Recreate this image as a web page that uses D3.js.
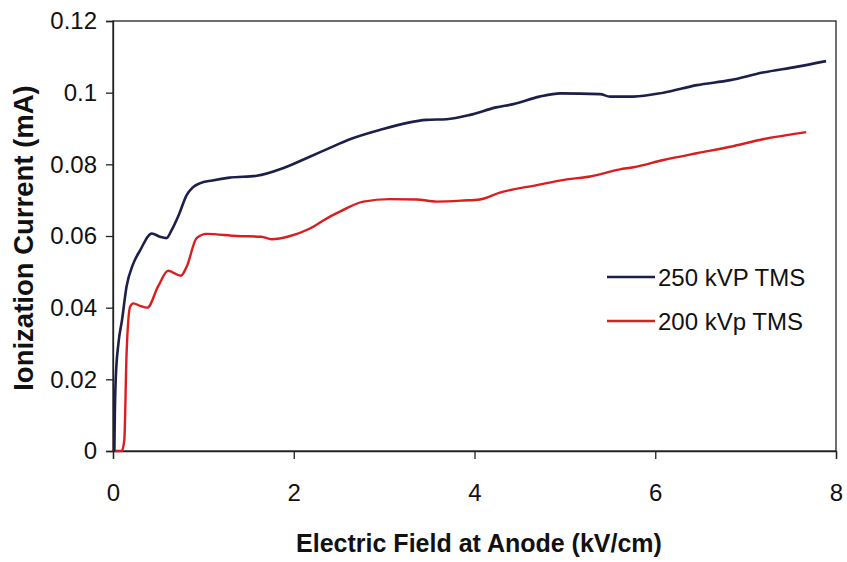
<!DOCTYPE html>
<html>
<head>
<meta charset="utf-8">
<script src="https://cdn.jsdelivr.net/npm/d3@7"></script>
<style>
  html, body { margin: 0; padding: 0; background: #fff; }
  svg { display: block; font-family: "Liberation Sans", Arial, sans-serif; }
</style>
</head>
<body>
<svg id="chart" width="847" height="562"></svg>
<script>
// Ionization current vs. electric field at the anode, two tube settings.
const fieldTicks = [0, 2, 4, 6, 8];
const currentTicks = [0, 0.02, 0.04, 0.06, 0.08, 0.1, 0.12];
const currentTickLabels = ["0", "0.02", "0.04", "0.06", "0.08", "0.1", "0.12"];

const seriesNames = ["250 kVP TMS", "200 kVp TMS"];
const seriesColors = ["#1c1f4a", "#d81e1e"];

// 250 kVP TMS: field (kV/cm) and current (mA)
const field250 = [0.015, 0.02, 0.03, 0.06, 0.1, 0.15, 0.22, 0.3, 0.43, 0.52, 0.59, 0.65, 0.73, 0.815, 0.88, 0.96, 1.1, 1.29, 1.59, 1.88, 2.14, 2.4, 2.6, 2.95, 3.47, 3.69, 3.95, 4.24, 4.43, 4.72, 4.95, 5.39, 5.5, 5.76, 6.09, 6.46, 6.83, 7.19, 7.56, 7.89];
const current250 = [0, 0.01, 0.02, 0.03, 0.0366, 0.0459, 0.052, 0.056, 0.0607, 0.0598, 0.0594, 0.0617, 0.066, 0.0714, 0.0735, 0.0747, 0.0755, 0.0763, 0.0768, 0.0789, 0.0817, 0.0846, 0.0868, 0.0896, 0.0924, 0.0926, 0.0938, 0.0959, 0.0968, 0.0989, 0.0998, 0.0996, 0.0989, 0.0989, 0.1, 0.1021, 0.1035, 0.1056, 0.1072, 0.1088];

// 200 kVp TMS: field (kV/cm) and current (mA)
const field200 = [0.02, 0.096, 0.125, 0.15, 0.19, 0.225, 0.3, 0.38, 0.5, 0.61, 0.75, 0.815, 0.925, 1.036, 1.37, 1.64, 1.755, 1.96, 2.18, 2.4, 2.51, 2.77, 3.06, 3.36, 3.58, 3.88, 4.06, 4.28, 4.69, 5.02, 5.28, 5.61, 5.76, 6.09, 6.46, 6.83, 7.19, 7.67];
const current200 = [0, 0, 0.003, 0.027, 0.0403, 0.0412, 0.0405, 0.04, 0.046, 0.0503, 0.0489, 0.0514, 0.0594, 0.0606, 0.06, 0.0598, 0.0591, 0.06, 0.0621, 0.0654, 0.0668, 0.0696, 0.0703, 0.0702, 0.0696, 0.0699, 0.0702, 0.0721, 0.0742, 0.0758, 0.0766, 0.0786, 0.0792, 0.0812, 0.0831, 0.0849, 0.087, 0.089];

const svg = d3.select("#chart");
const margin = { left: 113, right: 11, top: 21, bottom: 111 };
const W = 847, H = 562;
const plotW = W - margin.left - margin.right;
const plotH = H - margin.top - margin.bottom;

const x = d3.scaleLinear().domain([0, 8]).range([0, plotW]);
const y = d3.scaleLinear().domain([0, 0.12]).range([plotH, 0]);

const g = svg.append("g").attr("transform", `translate(${margin.left},${margin.top})`);

// plot frame
g.append("rect")
  .attr("x", 0).attr("y", 0).attr("width", plotW).attr("height", plotH)
  .attr("fill", "none").attr("stroke", "#222").attr("stroke-width", 1.3);

// axes
const xAxis = g.append("g").attr("transform", `translate(0,${plotH})`)
  .call(d3.axisBottom(x).tickValues(fieldTicks).tickSize(8).tickPadding(25).tickFormat(d3.format("d")));
const yAxis = g.append("g")
  .call(d3.axisLeft(y).tickValues(currentTicks).tickSize(7).tickPadding(9)
    .tickFormat((d, i) => currentTickLabels[i]));

[xAxis, yAxis].forEach(a => {
  a.select(".domain").attr("stroke", "#222").attr("stroke-width", 1.3);
  a.selectAll(".tick line").attr("stroke", "#222").attr("stroke-width", 1.3);
  a.selectAll(".tick text").attr("fill", "#111")
    .style("font-size", "24px").style("font-family", "'Liberation Sans', Arial, sans-serif");
});

// series lines
const line = d3.line().x(d => x(d[0])).y(d => y(d[1])).curve(d3.curveMonotoneX);
const data250 = field250.map((f, i) => [f, current250[i]]);
const data200 = field200.map((f, i) => [f, current200[i]]);

g.append("path").datum(data200)
  .attr("d", line).attr("fill", "none")
  .attr("stroke", seriesColors[1]).attr("stroke-width", 2.4).attr("stroke-linejoin", "round");
g.append("path").datum(data250)
  .attr("d", line).attr("fill", "none")
  .attr("stroke", seriesColors[0]).attr("stroke-width", 2.6).attr("stroke-linejoin", "round");

// legend
const legend = g.append("g").attr("transform", `translate(${607 - margin.left},${277 - margin.top})`);
seriesNames.forEach((name, i) => {
  const row = legend.append("g").attr("transform", `translate(0,${i * 44})`);
  row.append("line").attr("x1", 0).attr("x2", 48).attr("y1", 0).attr("y2", 0)
    .attr("stroke", seriesColors[i]).attr("stroke-width", 2.4);
  row.append("text").attr("x", 51).attr("y", 9)
    .attr("fill", "#111").style("font-size", "24px").text(name);
});

// axis titles
svg.append("text")
  .attr("x", 479).attr("y", 552)
  .attr("text-anchor", "middle").attr("fill", "#111")
  .style("font-size", "25px").style("font-weight", "bold")
  .text("Electric Field at Anode (kV/cm)");

svg.append("text")
  .attr("transform", "translate(33,238) rotate(-90)")
  .attr("text-anchor", "middle").attr("fill", "#111")
  .style("font-size", "27.5px").style("font-weight", "bold")
  .text("Ionization Current (mA)");
</script>
</body>
</html>
